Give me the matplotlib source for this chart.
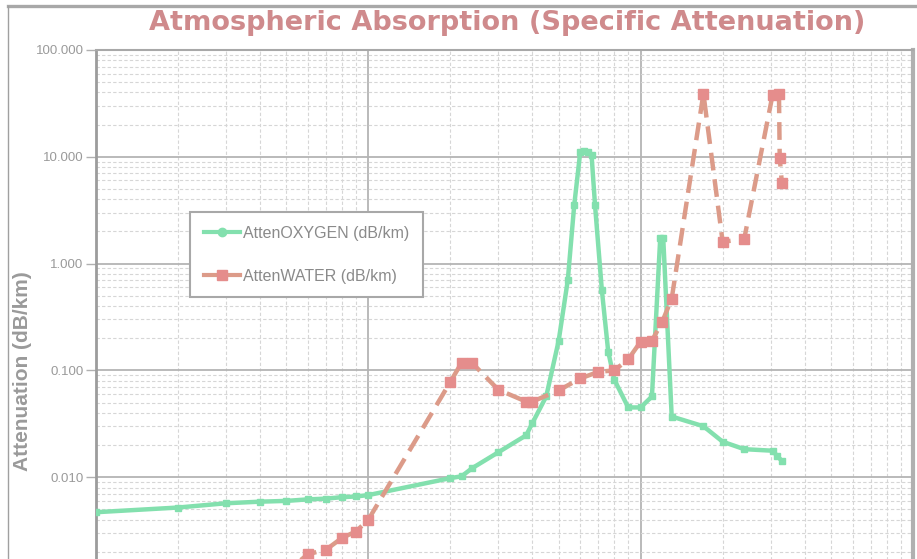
import matplotlib
matplotlib.use("Agg")
import matplotlib.pyplot as plt
from matplotlib.lines import Line2D
from matplotlib.ticker import LogLocator, FixedLocator, NullFormatter, FuncFormatter

# frequencies in GHz, attenuation in dB/km
oxy_freq = [1, 2, 3, 4, 5, 6, 7, 8, 9, 10, 20, 22, 24, 30, 38, 40, 45, 50, 54, 57,
            60, 62, 64, 66, 68, 72, 76, 80, 90, 100, 110, 118, 121, 130, 170, 200,
            240, 305, 318, 330]
oxy_att = [0.0047, 0.0052, 0.0057, 0.0059, 0.0060, 0.0062, 0.0063, 0.0065, 0.0066,
           0.0068, 0.0098, 0.0102, 0.0121, 0.0171, 0.0247, 0.032, 0.057, 0.19, 0.7,
           3.5, 11.1, 11.3, 11.1, 10.5, 3.5, 0.57, 0.15, 0.082, 0.045, 0.045, 0.057,
           1.75, 1.75, 0.037, 0.030, 0.0215, 0.0183, 0.0177, 0.0157, 0.0142]

wat_freq = [5, 6, 7, 8, 9, 10, 20, 22, 24, 30, 38, 40, 50, 60, 70, 80, 90, 100, 110,
            120, 130, 170, 200, 240, 305, 322, 324, 330]
wat_att = [0.0013, 0.0019, 0.0021, 0.0027, 0.0031, 0.0040, 0.078, 0.118, 0.118, 0.066,
           0.051, 0.051, 0.065, 0.084, 0.097, 0.100, 0.127, 0.186, 0.19, 0.285, 0.47,
           39, 1.6, 1.7, 38, 39, 9.8, 5.7]

y_ticks = [0.01, 0.1, 1, 10, 100]

title = "Atmospheric Absorption (Specific Attenuation)"
ylabel = "Attenuation (dB/km)"
oxy_label = "AttenOXYGEN (dB/km)"
wat_label = "AttenWATER (dB/km)"

green = "#83e0ae"
salmon_line = "#dc9b89"
salmon_mark = "#e58d8c"
grey_txt = "#9a9a9a"

plt.rcParams["font.family"] = ["Liberation Sans", "DejaVu Sans"]

W, H = 917, 559
fig = plt.figure(figsize=(W / 100, H / 100), dpi=100)
fig.patch.set_facecolor("white")

# outer frame of the chart area
fig.add_artist(Line2D([8 / W, 1.0], [1 - 5.5 / H, 1 - 5.5 / H], color="#a8a8a8", lw=2.4))
fig.add_artist(Line2D([8 / W, 8 / W], [0, 1 - 5.5 / H], color="#a0a0a0", lw=1.0))

ax = fig.add_axes([96 / W, 1 - 584 / H, 817 / W, 534 / H])
ax.set_xscale("log")
ax.set_yscale("log")
ax.set_xlim(1, 1000)
ax.set_ylim(0.001, 100)

ax.grid(True, which="major", color="#b4b4b4", lw=1.3, ls="-")
ax.grid(True, which="minor", color="#d6d6d6", lw=0.8, ls=(0, (3, 2)))
ax.xaxis.set_minor_locator(LogLocator(base=10, subs=range(2, 10)))
ax.yaxis.set_minor_locator(LogLocator(base=10, subs=range(2, 10)))
ax.set_axisbelow(True)

ax.plot(oxy_freq, oxy_att, color=green, lw=3.2, marker="s", ms=5,
        mfc=green, mec=green, solid_joinstyle="round", zorder=3)
ax.plot(wat_freq, wat_att, color=salmon_line, lw=3.2, ls=(0, (4, 2)),
        marker="s", ms=6.5, mfc=salmon_mark, mec=salmon_mark, zorder=4)

ax.yaxis.set_major_locator(FixedLocator(y_ticks))
ax.yaxis.set_major_formatter(FuncFormatter(lambda v, p: f"{v:.3f}"))
ax.yaxis.set_minor_formatter(NullFormatter())
ax.xaxis.set_major_formatter(NullFormatter())
ax.xaxis.set_minor_formatter(NullFormatter())
ax.tick_params(axis="y", which="major", length=7, width=1, color="#b0b0b0",
               labelsize=9.5, labelcolor=grey_txt, pad=2)
ax.tick_params(axis="y", which="minor", length=0)
ax.tick_params(axis="x", which="both", length=0)

ax.spines["left"].set_color("#9c9c9c")
ax.spines["left"].set_linewidth(2)
ax.spines["top"].set_color("#a8a8a8")
ax.spines["top"].set_linewidth(1.5)
ax.spines["right"].set_color("#b0b0b0")
ax.spines["right"].set_linewidth(3)
ax.spines["bottom"].set_color("#a8a8a8")

fig.text(507 / W, 1 - 23 / H, title, ha="center", va="center", fontsize=19.5,
         fontweight="heavy", color="#cf8a8c", family="DejaVu Sans")
fig.text(23 / W, 1 - 371 / H, ylabel, ha="center", va="center", rotation=90,
         fontsize=15, fontweight="bold", color=grey_txt)

handles = [
    Line2D([], [], color=green, lw=3, marker="o", ms=6, mfc=green, mec=green),
    Line2D([], [], color=salmon_line, lw=3, marker="s", ms=7, mfc=salmon_mark, mec=salmon_mark),
]
leg = ax.legend(handles, [oxy_label, wat_label], loc="upper left",
                bbox_to_anchor=(190 / W, 1 - 212 / H), bbox_transform=fig.transFigure,
                borderaxespad=0, fontsize=11.5, labelcolor="#8a8a8a", frameon=True,
                fancybox=False, framealpha=1, edgecolor="#a8a8a8", handlelength=2.3,
                handletextpad=0.15, labelspacing=1.75, borderpad=0.85)
leg.get_frame().set_linewidth(1.5)

fig.savefig("out.png", dpi=100, facecolor="white")
